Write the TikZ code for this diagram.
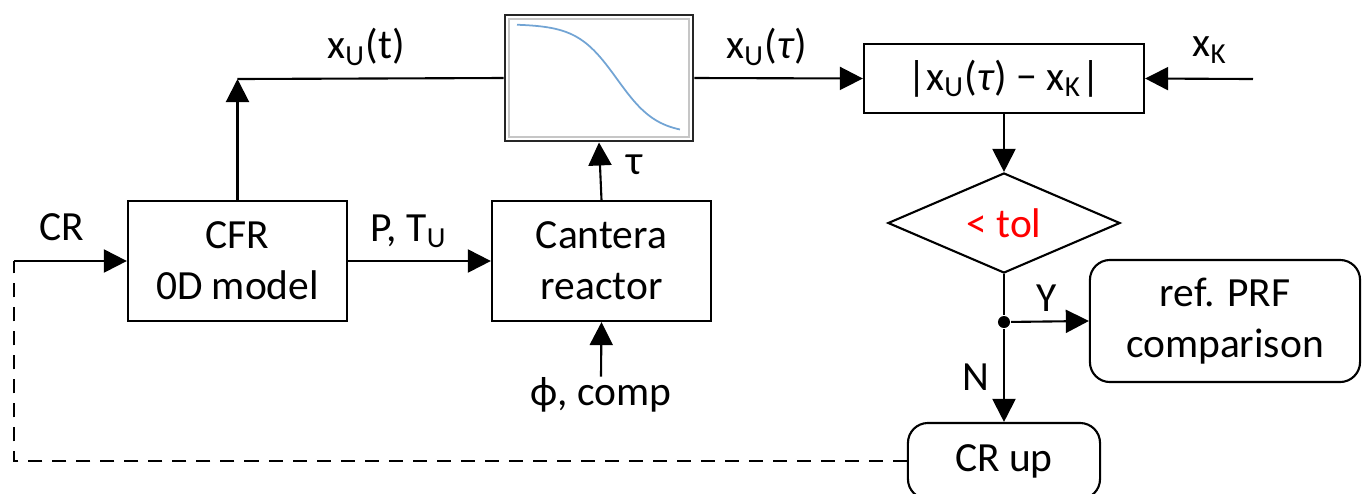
\documentclass[tikz,border=0pt]{standalone}
\usepackage{fontspec}
\setmainfont{Carlito}
\usetikzlibrary{arrows.meta,shapes.geometric}
\definecolor{curveblue}{RGB}{114,164,212}

\begin{document}
\begin{tikzpicture}[x=0.01cm, y=-0.01cm, line width=0.6pt,
    font=\fontsize{11.8}{14.5}\selectfont,
    block/.style={draw, rectangle, align=center, inner sep=0pt},
    rblock/.style={block, rounded corners=0.2cm},
    arr/.style={-{Triangle[length=0.23cm,width=0.23cm]}},
    lbl/.style={inner sep=0pt}]
  \useasboundingbox (0,0) rectangle (1362,493);
  % blocks
  \node[block, minimum width=2.19cm, minimum height=1.2cm] (cfr) at (237.5,261) {CFR\\0D model};
  \node[block, minimum width=2.19cm, minimum height=1.2cm] (cantera) at (601.5,261) {Cantera\\reactor};
  \node[block, line width=0.8pt, draw=black!85, minimum width=1.88cm, minimum height=1.26cm] (plot) at (599,78) {};
  \node[block, minimum width=2.8cm, minimum height=0.69cm] (abs) at (1004,78.5) {|x\textsubscript{U}(\textit{τ}) − x\textsubscript{K}|};
  \node[draw, diamond, aspect=2.32, inner sep=0pt, minimum width=2.32cm, minimum height=1.0cm, text=red] (tol) at (1004,223) {< tol};
  \node[rblock, minimum width=2.7cm, minimum height=1.22cm] (ref) at (1225,321) {ref. PRF\\comparison};
  \node[rblock, minimum width=1.92cm, minimum height=0.76cm] (crup) at (1004,461) {CR up};
  \node[lbl] (comp) at (601,395) {ϕ, comp};
  % curve inside the plot box
  \draw[gray!45, line width=0.4pt] (509,19) rectangle (689,137);
  \draw[curveblue, line width=0.5pt] plot[domain=517:680, samples=60, smooth] (\x, {24+110/(1+exp(-(\x-617)/20))});
  % connectors
  \coordinate (junc) at (237.5,79);
  \coordinate (crin) at (14,261);
  \coordinate (xkin) at (1253,79);
  \node[circle, fill, inner sep=0pt, minimum size=0.12cm] (split) at (1004,322) {};
  \draw[arr] (cfr.north) -- (junc);
  \draw (junc) -- (plot.west);
  \draw[arr] (plot.east) -- (abs.west);
  \draw[arr] (xkin) -- (abs.east);
  \draw[arr] (cfr.east) -- (cantera.west);
  \draw[arr] (cantera.north) -- (plot.south);
  \draw[arr] (comp.north) -- (cantera.south);
  \draw[arr] (abs.south) -- (tol.north);
  \draw (tol.south) -- (split);
  \draw[arr] (split) -- (ref.west);
  \draw[arr] (split) -- (crup.north);
  \draw[dashed, dash pattern=on 0.14cm off 0.1cm] (crup.west) -| (crin);
  \draw[arr] (crin) -- (cfr.west);
  % labels
  \node[lbl] (lxut) at (366,47) {x\textsubscript{U}(t)};
  \node[lbl] (lxutau) at (767,47) {x\textsubscript{U}(\textit{τ})};
  \node[lbl] (lxk) at (1210,50) {x\textsubscript{K}};
  \node[lbl] (lcr) at (62,227) {CR};
  \node[lbl] (lpt) at (409,231) {P, T\textsubscript{U}};
  \node[lbl] (ltau) at (635,165) {τ};
  \node[lbl] (ly) at (1047,298) {Y};
  \node[lbl] (ln) at (976,377) {N};
\end{tikzpicture}
\end{document}
